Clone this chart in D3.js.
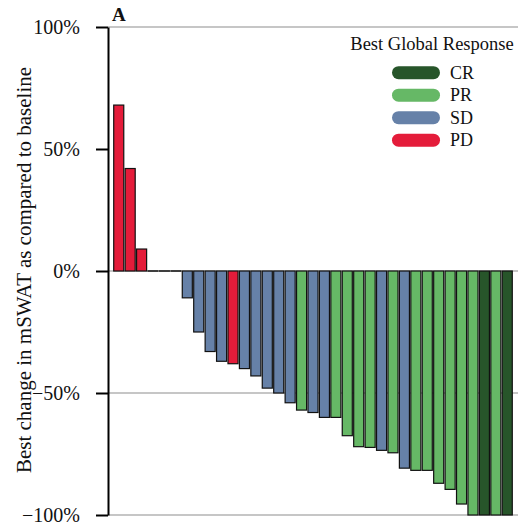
<!DOCTYPE html>
<html><head><meta charset="utf-8">
<script src="https://cdn.jsdelivr.net/npm/d3@7"></script>
<style>body{margin:0;background:#fff}svg{display:block}</style>
</head><body><svg id="c" width="519" height="525"></svg>
<script>
const values = [68, 42, 9, 0, 0, 0, -11, -25, -33, -37, -38, -40, -43, -48, -50, -54, -57, -58, -60, -60, -67.5, -72, -72.3, -73.5, -74.5, -80.8, -81.7, -81.7, -87, -89.5, -95.5, -100, -100, -100, -100];
const responses = ["PD","PD","PD","SD","SD","SD","SD","SD","SD","SD","PD","SD","SD","SD","SD","SD","PR","SD","SD","PR","PR","PR","PR","SD","PR","SD","PR","PR","PR","PR","PR","PR","CR","PR","CR"];
const legendKeys = ["CR","PR","SD","PD"];
const legendColors = ["#27552a","#66b866","#6681a8","#e41c3a"];
const tickValues = [-100, -50, 0, 50, 100];
const gridValues = [-100, -50, 0, 100];

const FONT = "'Liberation Serif', 'Times New Roman', Times, 'DejaVu Serif', serif";
const svg = d3.select("#c");
const x = d3.scaleBand().domain(d3.range(values.length)).range([108, 518]).paddingInner(0.12).paddingOuter(0.5);
const y = d3.scaleLinear().domain([-100, 100]).range([515, 27]);
const color = d3.scaleOrdinal().domain(legendKeys).range(legendColors);
const fmt = v => (v < 0 ? "\u2212" + Math.abs(v) : v) + "%";

svg.append("g").selectAll("line").data(gridValues).join("line")
  .attr("x1", 108).attr("x2", 518)
  .attr("y1", d => y(d)).attr("y2", d => y(d))
  .attr("stroke", "#b3b3b3").attr("stroke-width", 1.6);

const bars = values.map((v, i) => ({v, i, r: responses[i]}));
svg.append("g").selectAll("rect").data(bars.filter(d => d.v !== 0)).join("rect")
  .attr("x", d => x(d.i))
  .attr("width", x.bandwidth())
  .attr("y", d => y(Math.max(0, d.v)))
  .attr("height", d => Math.abs(y(d.v) - y(0)))
  .attr("fill", d => color(d.r))
  .attr("stroke", "#111").attr("stroke-width", 1.2);
// zero-height bars show only as their outline
svg.append("g").selectAll("line").data(bars.filter(d => d.v === 0)).join("line")
  .attr("x1", d => x(d.i) - 0.5).attr("x2", d => x(d.i) + x.bandwidth() + 0.5)
  .attr("y1", d => y(d.v)).attr("y2", d => y(d.v))
  .attr("stroke", "#111").attr("stroke-width", 1.5);

const ax = svg.append("g").attr("transform", "translate(108,0)")
  .call(d3.axisLeft(y).tickValues(tickValues).tickFormat(fmt).tickSize(12).tickSizeOuter(0).tickPadding(16));
ax.attr("font-family", FONT).attr("font-size", 20);
ax.select(".domain").attr("stroke", "#000").attr("stroke-width", 2);
ax.selectAll(".tick line").attr("stroke", "#000").attr("stroke-width", 2);
ax.selectAll(".tick text").style("font-family", FONT).attr("font-size", 20).attr("fill", "#111");

svg.append("text").attr("transform", "translate(31,270) rotate(-90)")
  .style("font-family", FONT)
  .attr("text-anchor", "middle").attr("font-size", 21).attr("fill", "#111")
  .text("Best change in mSWAT as compared to baseline");

svg.append("text").attr("x", 112).attr("y", 21).style("font-family", FONT).attr("font-weight", "bold").attr("font-size", 19).attr("fill", "#111").text("A");

svg.append("text").attr("x", 432).attr("y", 50).style("font-family", FONT).attr("text-anchor", "middle").attr("font-size", 18.5).attr("fill", "#111").text("Best Global Response");
const lg = svg.append("g").selectAll("g").data(legendKeys).join("g")
  .attr("transform", (d, i) => `translate(0,${72.7 + i * 22.5})`);
lg.append("rect").attr("x", 392).attr("y", -6.5).attr("width", 48).attr("height", 13).attr("rx", 6.5)
  .attr("fill", d => color(d));
lg.append("text").attr("x", 450).attr("y", 6).style("font-family", FONT).attr("font-size", 18).attr("fill", "#111").text(d => d);
</script></body></html>
